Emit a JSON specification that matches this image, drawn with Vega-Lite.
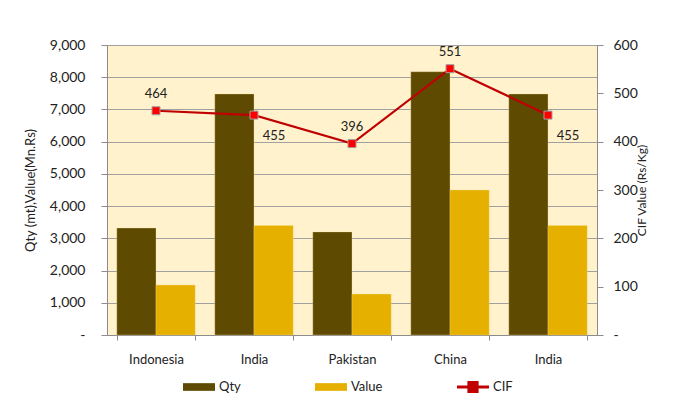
{
  "$schema": "https://vega.github.io/schema/vega-lite/v6.json",
  "width": 490,
  "height": 290,
  "autosize": "none",
  "padding": {"left": 107, "top": 45, "right": 86, "bottom": 79},
  "background": "white",
  "config": {
    "font": "Lato",
    "view": {"fill": "#FFF2CC", "stroke": "#A6A6A6", "strokeWidth": 1},
    "axis": {"labelFont": "Lato", "titleFont": "Lato", "labelColor": "#222222", "titleColor": "#222222", "domainColor": "#8C8C8C", "tickColor": "#8C8C8C"}
  },
  "data": {
    "values": [
      {"country": "Indonesia", "Qty": 3320, "Value": 1550, "CIF": 464},
      {"country": "India", "Qty": 7480, "Value": 3400, "CIF": 455},
      {"country": "Pakistan", "Qty": 3200, "Value": 1270, "CIF": 396},
      {"country": "China", "Qty": 8170, "Value": 4500, "CIF": 551},
      {"country": "India ", "Qty": 7480, "Value": 3400, "CIF": 455}
    ]
  },
  "encoding": {
    "x": {
      "field": "country",
      "type": "nominal",
      "sort": null,
      "scale": {"paddingInner": 0.2, "paddingOuter": 0.1},
      "axis": {"title": null, "labelAngle": 0, "labelFontSize": 13, "labelPadding": 13, "tickBand": "extent", "tickSize": 5, "domainColor": "#8C8C8C"}
    }
  },
  "layer": [
    {
      "transform": [{"fold": ["Qty", "Value"], "as": ["series", "amount"]}],
      "mark": {"type": "bar", "strokeWidth": 0.6, "strokeOpacity": 0.5, "stroke": "#FFE699"},
      "encoding": {
        "xOffset": {"field": "series", "type": "nominal", "sort": ["Qty", "Value"]},
        "y": {
          "field": "amount",
          "type": "quantitative",
          "scale": {"domain": [0, 9000], "nice": false},
          "axis": {
            "title": "Qty (mt),Value(Mn.Rs)",
            "titleFontSize": 13,
            "titleFontWeight": "normal",
            "titlePadding": 12,
            "values": [0, 1000, 2000, 3000, 4000, 5000, 6000, 7000, 8000, 9000],
            "labelExpr": "datum.value === 0 ? '-' : format(datum.value, ',')",
            "labelFontSize": 14,
            "labelPadding": 16,
            "tickSize": 6,
            "grid": true,
            "gridColor": "#A0A0A0",
            "gridWidth": 1.2
          }
        },
        "color": {
          "field": "series",
          "type": "nominal",
          "scale": {"domain": ["Qty", "Value", "CIF"], "range": ["#5E4A00", "#E6B000", "#C00000"]},
          "legend": {
            "title": null,
            "orient": "none",
            "direction": "horizontal",
            "legendX": 76,
            "legendY": 326,
            "labelFontSize": 13,
            "labelFont": "Lato",
            "labelColor": "#222222",
            "columnPadding": 74,
            "labelOffset": 4,
            "symbolSize": 1024,
            "symbolStrokeWidth": 0,
            "symbolType": {"expr": "datum.value === 'CIF' ? 'M-1,-0.09H1V0.09H-1Z M-0.35,-0.38H0.35V0.38H-0.35Z' : 'M-1,-0.24H1V0.24H-1Z'"}
          }
        }
      }
    },
    {
      "encoding": {
        "y": {
          "field": "CIF",
          "type": "quantitative",
          "scale": {"domain": [0, 600], "nice": false},
          "axis": {
            "orient": "right",
            "title": "CIF Value (Rs/Kg)",
            "titleAngle": 270,
            "titleFontSize": 12,
            "titleFontWeight": "normal",
            "titlePadding": 11,
            "values": [0, 100, 200, 300, 400, 500, 600],
            "labelExpr": "datum.value === 0 ? '-' : format(datum.value, ',')",
            "labelFontSize": 14,
            "labelPadding": 10,
            "tickSize": 6,
            "grid": false
          }
        }
      },
      "layer": [
        {
          "mark": {"type": "line", "strokeWidth": 2.2},
          "encoding": {"color": {"datum": "CIF", "legend": null}}
        },
        {
          "mark": {"type": "point", "shape": "square", "filled": true, "fill": "#FF0000", "stroke": "#A0A0A0", "strokeWidth": 1, "size": 64, "opacity": 1},
          "encoding": {}
        },
        {
          "transform": [{"filter": "datum.country === 'Indonesia' || datum.country === 'Pakistan' || datum.country === 'China'"}],
          "mark": {"type": "text", "dy": -17, "fontSize": 13, "font": "Lato", "color": "#222222"},
          "encoding": {"text": {"field": "CIF", "type": "quantitative"}}
        },
        {
          "transform": [{"filter": "datum.country === 'India' || datum.country === 'India '"}],
          "mark": {"type": "text", "dx": 20, "dy": 21, "fontSize": 13, "font": "Lato", "color": "#222222"},
          "encoding": {"text": {"field": "CIF", "type": "quantitative"}}
        }
      ]
    }
  ],
  "resolve": {"scale": {"y": "independent"}}
}
